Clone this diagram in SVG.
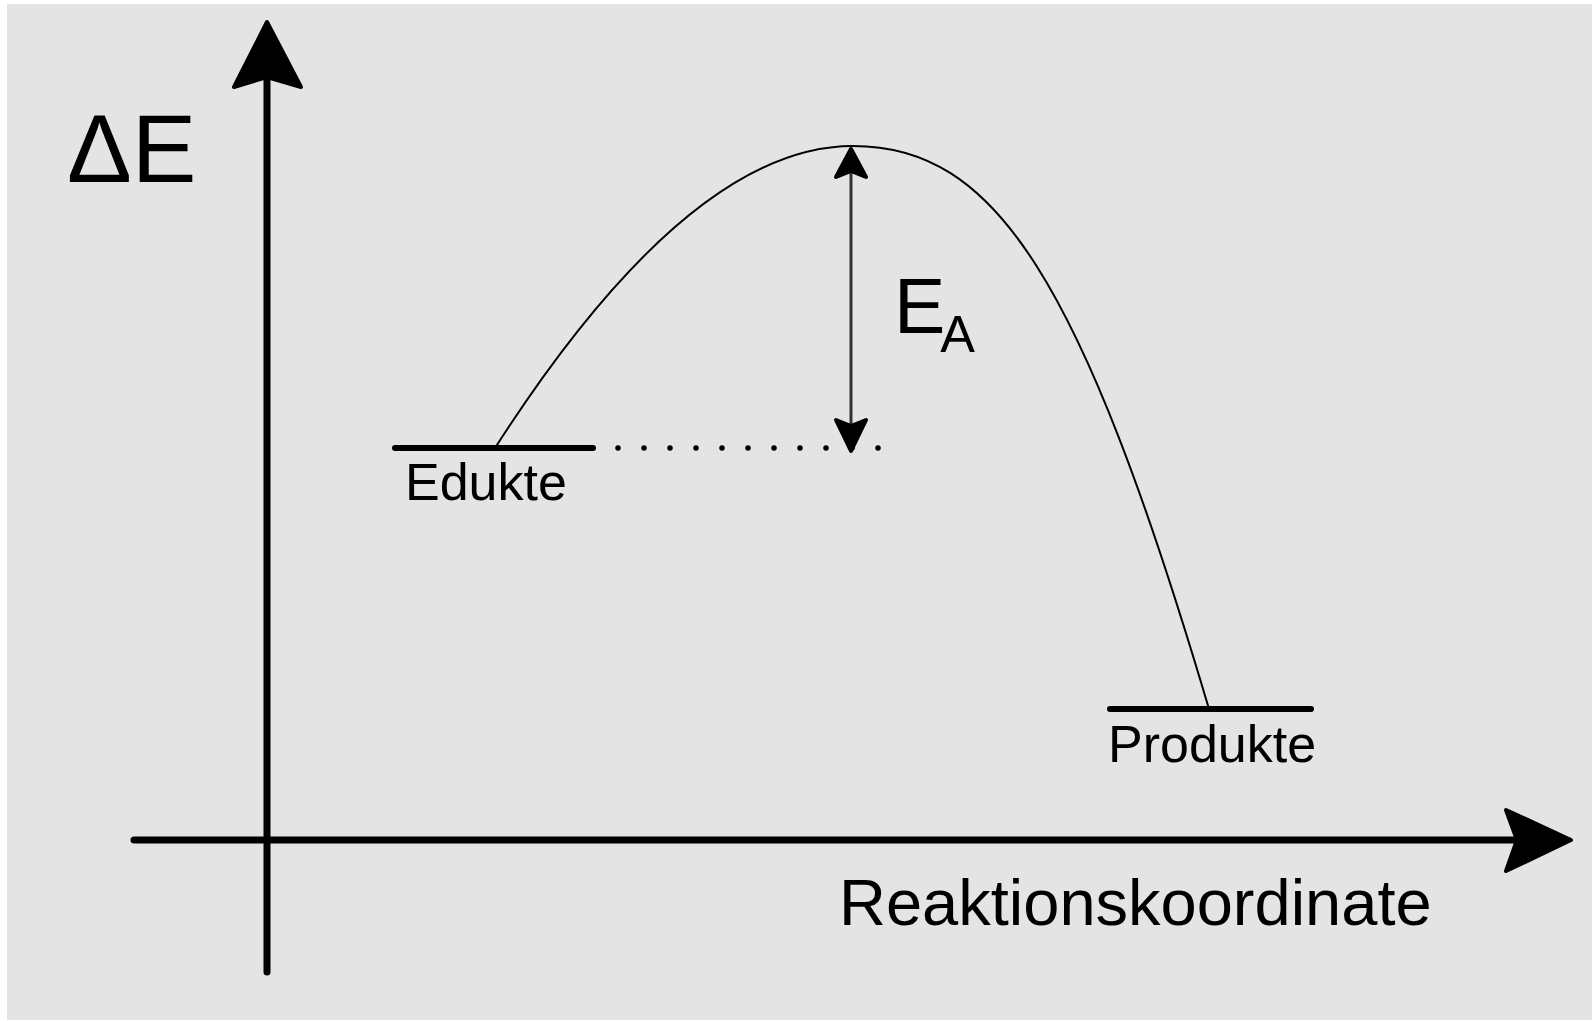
<svg xmlns="http://www.w3.org/2000/svg" width="1592" height="1021" viewBox="0 0 1592 1021">
<style>
.t{font-family:"Liberation Sans",Arial,sans-serif;fill:#000}
.axis{stroke:#000;stroke-width:7;stroke-linecap:round;fill:none}
.head{fill:#000;stroke:#000;stroke-width:4;stroke-linejoin:round}
.bar{stroke:#000;stroke-width:6;stroke-linecap:round}
</style>
<rect x="0" y="0" width="1592" height="1021" fill="#ffffff"/>
<rect x="7" y="4" width="1585" height="1016" fill="#e4e4e4"/>
<g id="axes">
<line class="axis" x1="267" y1="972" x2="267" y2="80"/>
<polygon class="head" points="267,22 234,87 267,77 301,87"/>
<line class="axis" x1="134" y1="840" x2="1515" y2="840"/>
<polygon class="head" points="1571,840 1506,810 1517,840 1506,871"/>
</g>
<g id="label-dE"><text class="t" x="67" y="182" font-size="97">ΔE</text></g>
<g id="label-rk"><text class="t" x="839" y="925" font-size="65">Reaktionskoordinate</text></g>
<g id="edukte">
<line class="bar" x1="395" y1="448" x2="593" y2="448"/>
<text class="t" x="405" y="500" font-size="52">Edukte</text>
</g>
<g id="produkte">
<line class="bar" x1="1110" y1="709" x2="1311" y2="709"/>
<text class="t" x="1108" y="762" font-size="52">Produkte</text>
</g>
<g id="connectors">
<path d="M495,448 C624,247 743,146 853,146 C995,146 1081,277 1209,709" fill="none" stroke="#000" stroke-width="2"/>
<line x1="618" y1="448" x2="880" y2="448" stroke="#000" stroke-width="5.5" stroke-linecap="round" stroke-dasharray="0 26"/>
<line x1="851" y1="170" x2="851" y2="428" stroke="#333" stroke-width="3"/>
<polygon class="head" stroke-width="2" points="851,149 836,177 851,171 866,177"/>
<polygon class="head" stroke-width="2" points="851,451 836,420 851,426 866,420"/>
</g>
<g id="label-ea">
<text class="t" x="894" y="333" font-size="77">E<tspan dx="-5" dy="19" font-size="52">A</tspan></text>
</g>
</svg>
